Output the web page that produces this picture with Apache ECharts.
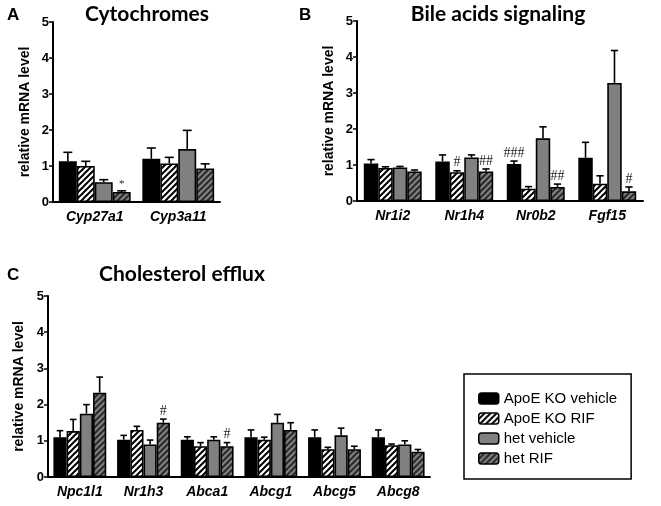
<!DOCTYPE html>
<html><head><meta charset="utf-8">
<script src="https://cdn.jsdelivr.net/npm/echarts@6/dist/echarts.min.js"></script>
<style>html,body{margin:0;padding:0;background:#fff}#c{width:661px;height:506px}</style>
</head><body><div id="c"></div>
<script>
// ---------- DATA ----------
const groups = ['ApoE KO vehicle', 'ApoE KO RIF', 'het vehicle', 'het RIF'];

const catsA = ['Cyp27a1', 'Cyp3a11'];
const valsA = [[1.13, 1.20], [1.00, 1.07], [0.55, 1.47], [0.28, 0.93]];
const errsA = [[0.25, 0.30], [0.13, 0.17], [0.07, 0.52], [0.03, 0.13]];
const notesA = [['', ''], ['', ''], ['', ''], ['*', '']];

const catsB = ['Nr1i2', 'Nr1h4', 'Nr0b2', 'Fgf15'];
const valsB = [[1.04, 1.10, 1.03, 1.20], [0.92, 0.80, 0.34, 0.48], [0.93, 1.21, 1.74, 3.28], [0.82, 0.82, 0.39, 0.27]];
const errsB = [[0.11, 0.18, 0.08, 0.43], [0.03, 0.04, 0.06, 0.22], [0.03, 0.07, 0.32, 0.90], [0.04, 0.07, 0.08, 0.12]];
const notesB = [['', '', '###', ''], ['', '#', '', ''], ['', '', '', ''], ['', '##', '##', '#']];

const catsC = ['Npc1l1', 'Nr1h3', 'Abca1', 'Abcg1', 'Abcg5', 'Abcg8'];
const valsC = [[1.10, 1.03, 1.03, 1.10, 1.10, 1.10], [1.27, 1.30, 0.85, 1.03, 0.77, 0.88], [1.75, 0.90, 1.03, 1.50, 1.15, 0.90], [2.33, 1.50, 0.85, 1.30, 0.77, 0.70]];
const errsC = [[0.18, 0.12, 0.08, 0.20, 0.20, 0.20], [0.32, 0.10, 0.10, 0.07, 0.05, 0.03], [0.25, 0.12, 0.08, 0.23, 0.20, 0.10], [0.43, 0.10, 0.10, 0.20, 0.08, 0.06]];
const notesC = [['', '', '', '', '', ''], ['', '', '', '', '', ''], ['', '', '', '', '', ''], ['', '#', '#', '', '', '']];

const yTicks = [0, 1, 2, 3, 4, 5];
const titles = ['Cytochromes', 'Bile acids signaling', 'Cholesterol efflux'];
const panelLetters = ['A', 'B', 'C'];

// ---------- STYLE ----------
function hatch(bg, fg) {
  const s = 6, cv = document.createElement('canvas');
  cv.width = s; cv.height = s;
  const g = cv.getContext('2d');
  g.fillStyle = bg; g.fillRect(0, 0, s, s);
  g.strokeStyle = fg; g.lineWidth = 2;
  g.beginPath();
  g.moveTo(-1, s + 1); g.lineTo(s + 1, -1);
  g.moveTo(-1, 1); g.lineTo(1, -1);
  g.moveTo(s - 1, s + 1); g.lineTo(s + 1, s - 1);
  g.stroke();
  return { image: cv, repeat: 'repeat' };
}
const fills = ['#000000', hatch('#ffffff', '#000000'), '#808080', hatch('#808080', '#2a2a2a')];

const grids = [
  { left: 53, top: 22, width: 167, height: 180 },
  { left: 357, top: 21, width: 286, height: 180 },
  { left: 48, top: 296, width: 382, height: 181 }
];
const gaps = [0.14, 0.19, 0.17];
const panels = [
  { cats: catsA, vals: valsA, errs: errsA, notes: notesA },
  { cats: catsB, vals: valsB, errs: errsB, notes: notesB },
  { cats: catsC, vals: valsC, errs: errsC, notes: notesC }
];

const axisFont = 'Liberation Sans, Arial, sans-serif';
const xAxes = [], yAxes = [], series = [];
panels.forEach((P, p) => {
  xAxes.push({
    type: 'category', gridIndex: p, data: P.cats,
    axisLine: { lineStyle: { color: '#000', width: 2 } },
    axisTick: { alignWithLabel: true, length: 4, lineStyle: { color: '#000', width: 1.5 } },
    axisLabel: { color: '#000', fontWeight: 'bold', fontStyle: 'italic', fontSize: 14, fontFamily: axisFont, margin: 8 }
  });
  yAxes.push({
    type: 'value', gridIndex: p, min: yTicks[0], max: yTicks[yTicks.length - 1], interval: 1,
    name: 'relative mRNA level', nameLocation: 'middle', nameGap: 21,
    nameTextStyle: { color: '#000', fontWeight: 'bold', fontSize: 14, fontFamily: axisFont },
    axisLine: { show: true, lineStyle: { color: '#000', width: 2 } },
    axisTick: { show: true, length: 4, lineStyle: { color: '#000', width: 1.5 } },
    axisLabel: { color: '#000', fontWeight: 'bold', fontSize: 13, fontFamily: axisFont, margin: 4 },
    splitLine: { show: false }
  });
  for (let g = 0; g < 4; g++) {
    series.push({
      type: 'bar', name: groups[g], xAxisIndex: p, yAxisIndex: p,
      data: P.vals[g], barGap: '0%', barCategoryGap: (gaps[p] * 100) + '%',
      itemStyle: { color: fills[g], borderColor: '#000', borderWidth: 1.6 },
      emphasis: { disabled: true }, animation: false
    });
  }
  const data = [], lbl = [];
  for (let g = 0; g < 4; g++) for (let c = 0; c < P.cats.length; c++) {
    data.push([c, g, P.vals[g][c], P.errs[g][c]]);
    lbl.push(P.notes[g][c]);
  }
  const gap = gaps[p];
  series.push({
    type: 'custom', xAxisIndex: p, yAxisIndex: p, data: data, z: 10, silent: true, animation: false,
    renderItem: function (params, api) {
      const c = api.value(0), g = api.value(1), m = api.value(2), e = api.value(3);
      const band = api.size([1, 0])[0];
      const tot = band * (1 - gap), bw = tot / 4;
      const base = api.coord([c, m]);
      const x = base[0] - tot / 2 + (g + 0.5) * bw;
      const yTop = api.coord([c, m + e])[1];
      const cap = bw * 0.5;
      const st = { stroke: '#000', lineWidth: 1.6 };
      const ch = [
        { type: 'line', shape: { x1: x, y1: base[1], x2: x, y2: yTop }, style: st },
        { type: 'line', shape: { x1: x - cap / 2, y1: yTop, x2: x + cap / 2, y2: yTop }, style: st }
      ];
      const t = lbl[params.dataIndex];
      if (t) ch.push({ type: 'text', x: x, y: yTop - 1, style: { text: t, fill: '#222', font: (t === '*' ? '11px' : '14px') + ' "Liberation Serif", serif', align: 'center', verticalAlign: 'bottom' } });
      return { type: 'group', children: ch };
    }
  });
});

const titleFont = 'Lato, "Open Sans", sans-serif';
const option = {
  animation: false,
  grid: grids,
  xAxis: xAxes,
  yAxis: yAxes,
  series: series,
  title: [
    { text: panelLetters[0], left: 2, top: 2, textStyle: { fontSize: 17, fontWeight: 'bold', fontFamily: axisFont, color: '#000' } },
    { text: titles[0], left: 142, top: -1, textAlign: 'center', textStyle: { fontSize: 21, fontWeight: 'bold', fontFamily: titleFont, color: '#000' } },
    { text: panelLetters[1], left: 294, top: 2, textStyle: { fontSize: 17, fontWeight: 'bold', fontFamily: axisFont, color: '#000' } },
    { text: titles[1], left: 493, top: -1, textAlign: 'center', textStyle: { fontSize: 21, fontWeight: 'bold', fontFamily: titleFont, color: '#000' } },
    { text: panelLetters[2], left: 2, top: 262, textStyle: { fontSize: 17, fontWeight: 'bold', fontFamily: axisFont, color: '#000' } },
    { text: titles[2], left: 177, top: 259, textAlign: 'center', textStyle: { fontSize: 21, fontWeight: 'bold', fontFamily: titleFont, color: '#000' } }
  ],
  legend: {
    data: groups, orient: 'vertical', left: 464, top: 374,
    itemWidth: 20, itemHeight: 11, itemGap: 5,
    padding: [17, 14, 13, 14],
    borderColor: '#000', borderWidth: 1.5,
    textStyle: { fontSize: 15, fontFamily: axisFont, color: '#000', lineHeight: 15 },
    itemStyle: { borderColor: '#000', borderWidth: 1.5 },
    selectedMode: false
  }
};
echarts.init(document.getElementById('c')).setOption(option);
</script></body></html>
